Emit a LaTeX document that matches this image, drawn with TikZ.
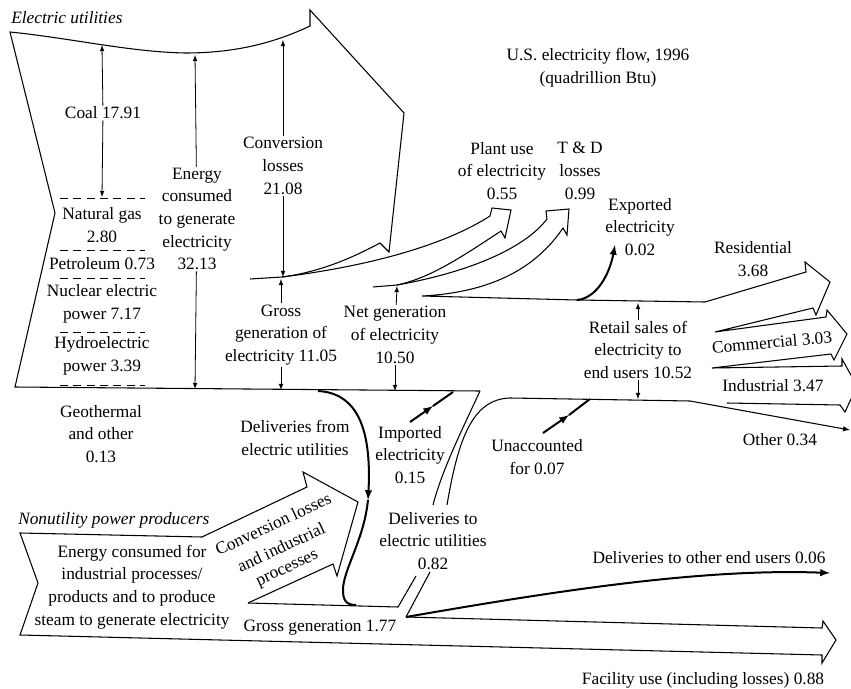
\documentclass[tikz,border=0pt]{standalone}
\usepackage{fontspec}
\setmainfont{Liberation Serif}
\usepackage{tikz}

\begin{document}
\begin{tikzpicture}[x=0.75pt,y=0.75pt,yscale=-1,xscale=1,>=latex,
  lbl/.style={font=\fontsize{13}{17}\selectfont, align=center, inner sep=0.75pt},
  ttl/.style={font=\fontsize{13}{17}\selectfont\itshape, anchor=west, inner sep=0.75pt},
  flow/.style={line width=0.8pt, line join=miter},
  heavy/.style={line width=1.5pt},
  gauge/.style={line width=0.6pt, ->}]
\useasboundingbox (0,0) rectangle (851,689);

% Text Node
\node[lbl] (title) at (598,68) {U.S. electricity flow, 1996\\(quadrillion Btu)};
% Text Node
\node[ttl] (eu) at (10,18) {Electric utilities};
% Text Node
\node[ttl] (nu) at (17,520) {Nonutility power producers};

%Shape: Electric utilities and conversion losses
\draw[flow] (250,279) -- (282,277) .. controls (320,272) and (352,258) .. (380,243) -- (389,252) -- (404,113) -- (310,10) -- (310,26) .. controls (270,45) and (230,53) .. (185,53) .. controls (130,52) and (70,38) .. (10,32) -- (55,213) -- (15,387) -- (480,391) ;
%Shape: Plant use arrow
\draw[flow] (282,277) .. controls (370,266) and (445,245) .. (490,216) -- (492,208) -- (511,210) -- (505,238) -- (501,231) .. controls (460,258) and (430,278) .. (397,285) -- (373,287) ;
%Shape: T & D arrow, residential, commercial, industrial
\draw[flow] (397,285) .. controls (470,272) and (525,248) .. (547,219) -- (546,211) -- (569,209) -- (567,235) -- (563,228) .. controls (540,262) and (500,292) .. (422,296) -- (577,300) -- (705,302) -- (806,272) -- (805,262) -- (830,282) -- (816,315) -- (813,308) -- (715,332) -- (826,317) -- (827,310) -- (847,334) -- (834,360) -- (831,354) -- (712,368) -- (842,366) -- (842,359) -- (857,386) -- (845,412) -- (840,405) -- (727,403) ;
%Straight Lines: retail bottom and other
\draw[flow] (447,505) .. controls (458,440) and (472,399) .. (510,398) -- (690,401) ;
\draw[flow,->] (690,401) -- (850,430) ;
%Curve Lines: deliveries to electric utilities
\draw[flow] (480,391) .. controls (462,430) and (442,470) .. (433,505) ;
\draw[flow] (248,603) -- (398,607) -- (416,576) ;
\draw[flow] (406,617) -- (430,572) ;
%Shape: Nonutility power producers and facility use
\draw[flow] (406,617) -- (822,628) -- (823,621) -- (836,640) -- (822,663) -- (822,655) -- (20,635) -- (38,583) -- (20,533) -- (202,537) -- (307,487) -- (303,472) -- (358,502) -- (337,576) -- (333,564) -- (248,603) ;

%Curve Lines: heavy flows
\draw[heavy,->] (318,391) .. controls (355,393) and (372,425) .. (368,500) ;
\draw[heavy] (368,500) .. controls (364,540) and (343,570) .. (343,590) .. controls (343,600) and (346,605) .. (356,605) ;
\draw[heavy,->] (577,300) .. controls (598,298) and (610,272) .. (615,245) ;
\draw[heavy,->] (410,422) -- (433,406) ;
\draw[heavy] (433,406) -- (453,392) ;
\draw[heavy,->] (543,433) -- (569,415) ;
\draw[heavy] (569,415) -- (590,399) ;
\draw[heavy,->] (406,617) .. controls (550,592) and (700,568) .. (830,573) ;

%Dashed Lines
\foreach \y in {198,250,278,332,385}
  \draw[dash pattern=on 6pt off 4pt, line width=0.6pt] (60,\y) -- (145,\y) ;

% Text Node
\node[lbl] (coal) at (103,113) {Coal 17.91};
\node[lbl] (gas) at (102,225) {Natural gas\\2.80};
\node[lbl] (oil) at (102,264) {Petroleum 0.73};
\node[lbl] (nuc) at (102,304) {Nuclear electric\\power 7.17};
\node[lbl] (hyd) at (102,356) {Hydroelectric\\power 3.39};
\node[lbl] (geo) at (101,434) {Geothermal\\and other\\0.13};
\node[lbl] (cons) at (197,219) {Energy\\consumed\\to generate\\electricity\\32.13};
\node[lbl] (loss) at (283,166) {Conversion\\losses\\21.08};
\node[lbl] (gross) at (281,335) {Gross\\generation of\\electricity 11.05};
\node[lbl] (net) at (395,335) {Net generation\\of electricity\\10.50};
\node[lbl] (plant) at (502,171) {Plant use\\of electricity\\0.55};
\node[lbl] (td) at (580,171) {T \& D\\losses\\0.99};
\node[lbl] (exp) at (640,227) {Exported\\electricity\\0.02};
\node[lbl] (res) at (753,259) {Residential\\3.68};
\node[lbl] (retail) at (638,350) {Retail sales of\\electricity to\\end users 10.52};
\node[lbl, rotate=5] (com) at (772,342) {Commercial 3.03};
\node[lbl] (ind) at (773,386) {Industrial 3.47};
\node[lbl] (oth) at (780,440) {Other 0.34};
\node[lbl] (dfrom) at (295,438) {Deliveries from\\electric utilities};
\node[lbl] (imp) at (410,455) {Imported\\electricity\\0.15};
\node[lbl] (unacc) at (537,457) {Unaccounted\\for 0.07};
\node[lbl] (dto) at (433,541) {Deliveries to\\electric utilities\\0.82};
\node[lbl] (nuen) at (132,587) {Energy consumed for\\industrial processes/\\products and to produce\\steam to generate electricity};
\node[lbl, rotate=25] (nuloss1) at (273,524) {Conversion losses};
\node[lbl, rotate=25] (nuloss2) at (281,547) {and industrial};
\node[lbl, rotate=25] (nuloss3) at (288,570) {processes};
\node[lbl] (ngross) at (320,628) {Gross generation 1.77};
\node[lbl] (other) at (709,558) {Deliveries to other end users 0.06};
\node[lbl] (fac) at (703,680) {Facility use (including losses) 0.88};

%Straight Lines: value markers
\draw[gauge] (coal) -- (102,45) ;
\draw[gauge] (coal) -- (102,197) ;
\draw[gauge] (cons) -- (195,55) ;
\draw[gauge] (cons) -- (195,389) ;
\draw[gauge] (loss) -- (283,40) ;
\draw[gauge] (loss) -- (283,277) ;
\draw[gauge] (gross) -- (281,279) ;
\draw[gauge] (gross) -- (281,390) ;
\draw[gauge] (net) -- (397,286) ;
\draw[gauge] (net) -- (395,391) ;
\draw[gauge] (retail) -- (638,303) ;
\draw[gauge] (retail) -- (638,399) ;

\end{tikzpicture}
\end{document}
